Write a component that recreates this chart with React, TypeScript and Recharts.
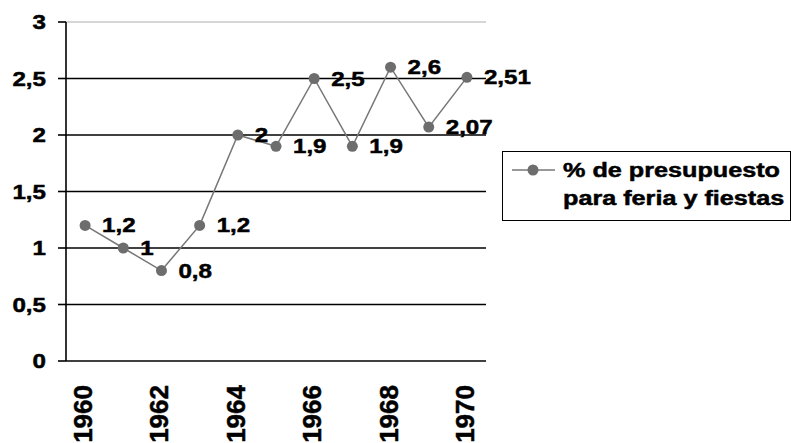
import React from "react";
import {
  LineChart,
  Line,
  XAxis,
  YAxis,
  CartesianGrid,
  ReferenceLine,
  LabelList,
  Legend,
} from "recharts";

const years = [1960, 1961, 1962, 1963, 1964, 1965, 1966, 1967, 1968, 1969, 1970];
const shares = [1.2, 1, 0.8, 1.2, 2, 1.9, 2.5, 1.9, 2.6, 2.07, 2.51];
const yTicks = [0, 0.5, 1, 1.5, 2, 2.5, 3];
const yearLabels = [1960, 1962, 1964, 1966, 1968, 1970];
const seriesName = "% de presupuesto para feria y fiestas";
const legendLines = ["% de presupuesto", "para feria y fiestas"];

const data = years.map((year, i) => ({ year, value: shares[i] }));
const boundaries = [...years.map((y) => y - 0.5), years[years.length - 1] + 0.5];
const gridValues = yTicks.filter((v) => v > 0 && v < 3);

const FONT = "'Liberation Sans', Arial, sans-serif";
const fmt = (v: number) => String(v).replace(".", ",");
// heavier look, like the original's bold Arial
const textStyle = {
  fontFamily: FONT,
  fontWeight: "bold",
  fill: "#000",
  stroke: "#000",
  strokeWidth: 0.5,
} as const;

const YTick = (props: any) => {
  const { x, y, payload } = props;
  return (
    <g>
      <line x1={x + 12} y1={y} x2={x + 20} y2={y} stroke="#000" strokeWidth={1.6} />
      <text
        transform={`translate(${x},${y + 7}) scale(1.15,1)`}
        textAnchor="end"
        fontSize={21}
        {...textStyle}
      >
        {fmt(payload.value)}
      </text>
    </g>
  );
};

const XTick = (props: any) => {
  const { x, y, payload } = props;
  return (
    <text
      transform={`translate(${x + 7},${y + 22}) rotate(-90)`}
      textAnchor="end"
      fontSize={26}
      {...textStyle}
    >
      {payload.value}
    </text>
  );
};

// tick mark only, at the category boundaries
const BoundaryTick = (props: any) => {
  const { x, y } = props;
  return <line x1={x} y1={y - 1} x2={x} y2={y + 7} stroke="#000" strokeWidth={1.6} />;
};

const PointLabel = (props: any) => {
  const { x, y, value } = props;
  return (
    <text
      transform={`translate(${x + 17},${y + 7}) scale(1.15,1)`}
      fontSize={21}
      {...textStyle}
    >
      {fmt(value)}
    </text>
  );
};

const LegendBox = () => (
  <svg width={286} height={67} style={{ display: "block" }}>
    <line x1={9} y1={18} x2={52} y2={18} stroke="#777" strokeWidth={1.5} />
    <circle cx={30} cy={18} r={5.5} fill="#6d6d6d" />
    {legendLines.map((line, i) => (
      <text
        key={line}
        transform={`translate(60,${25 + i * 28}) scale(1.2,1)`}
        fontSize={21}
        {...textStyle}
      >
        {line}
      </text>
    ))}
  </svg>
);

export default function App() {
  return (
    <div style={{ position: "absolute", left: 0, top: 0, background: "#fff" }}>
      <LineChart
        width={791}
        height={443}
        data={data}
        margin={{ top: 22, right: 16, left: 0, bottom: 0 }}
      >
        <CartesianGrid
          xAxisId="year"
          vertical={false}
          horizontalValues={gridValues}
          stroke="#000"
          strokeWidth={1.6}
        />
        <ReferenceLine xAxisId="year" y={3} stroke="#c8c8c8" strokeWidth={1.5} />
        <XAxis
          xAxisId="grid"
          type="number"
          domain={[1959.5, 1970.5]}
          ticks={boundaries}
          interval={0}
          tick={<BoundaryTick />}
          tickLine={false}
          tickSize={0}
          tickMargin={0}
          height={2}
          stroke="#000"
          axisLine={{ stroke: "#000", strokeWidth: 1.6 }}
        />
        <XAxis
          xAxisId="year"
          type="number"
          dataKey="year"
          domain={[1959.5, 1970.5]}
          ticks={yearLabels}
          interval={0}
          axisLine={false}
          tickLine={false}
          tickSize={0}
          tickMargin={0}
          height={80}
          tick={<XTick />}
        />
        <YAxis
          type="number"
          domain={[0, 3]}
          ticks={yTicks}
          interval={0}
          width={66}
          tickLine={false}
          tickSize={0}
          tickMargin={20}
          stroke="#000"
          axisLine={{ stroke: "#000", strokeWidth: 1.6 }}
          tick={<YTick />}
        />
        <Legend
          layout="vertical"
          align="right"
          verticalAlign="top"
          content={() => <LegendBox />}
          wrapperStyle={{
            left: 502,
            top: 151,
            width: 289,
            height: 70,
            border: "1.5px solid #000",
            boxSizing: "border-box",
            background: "#fff",
          }}
        />
        <Line
          xAxisId="year"
          type="linear"
          dataKey="value"
          name={seriesName}
          stroke="#777777"
          strokeWidth={1.5}
          dot={{ r: 5.5, fill: "#6d6d6d", stroke: "none" }}
          activeDot={false}
          isAnimationActive={false}
        >
          <LabelList dataKey="value" content={<PointLabel />} />
        </Line>
      </LineChart>
    </div>
  );
}
